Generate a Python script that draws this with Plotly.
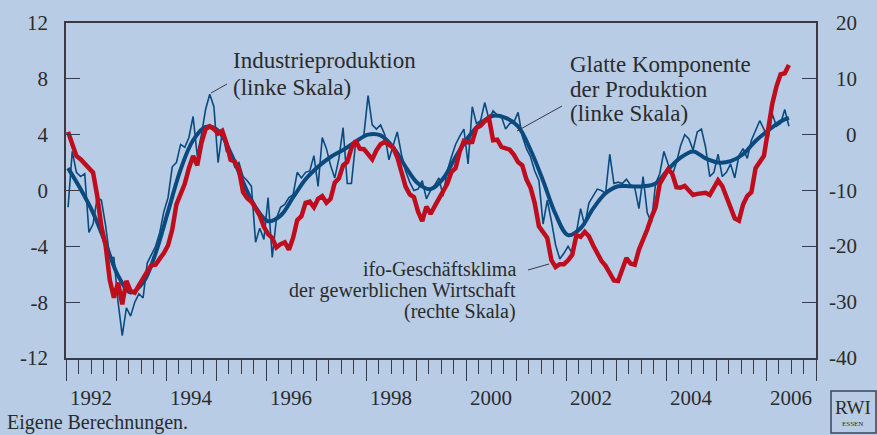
import plotly.graph_objects as go

# ---------------- data ----------------
start_year = 1992

# Industrieproduktion, monthly (left scale)
ip = [
    -1.2, 2.8, 1.3, 1.0, 1.2, -3.0, -2.4, -0.5, -0.7, -2.5,
    -4.8, -4.8, -8.0, -10.4, -8.4, -9.0, -8.0, -7.4, -7.7, -5.2,
    -4.6, -4.0, -3.0, -1.5, -0.5, 1.7, 2.0, 3.3, 3.1, 3.8,
    5.3, 2.5, 4.0, 5.8, 6.9, 6.0, 2.0, 4.2, 2.8, 2.6,
    1.7, 2.0, 1.0, 0.7, 0.3, -3.7, -2.7, -3.5, -0.5, -4.8,
    -2.0, -1.2, -1.0, -0.5, -0.3, 1.3, 0.9, 1.3, 1.4, 2.5,
    0.3, 3.8, 3.0, 1.8, 0.9, 2.3, 4.5, 0.5, 0.5, 3.4,
    3.6, 4.0, 6.8, 4.7, 4.4, 4.7, 4.0, 2.2, 3.2, 4.2,
    2.6, 1.4, 0.6, 0.0, 0.1, 0.7, -0.6, 0.0, 0.4, 0.9,
    -0.4, 1.4, 2.4, 3.3, 3.9, 4.4, 1.9, 6.0, 4.8, 5.0,
    6.3, 5.1, 5.7, 5.4, 5.3, 4.4, 4.8, 4.9, 5.6, 3.9,
    3.0, 2.4, 1.4, 0.7, -2.4, -0.7, -2.2, -3.9, -4.9, -4.5,
    -4.0, -4.5, -3.0, -1.3, -2.5, -0.9, -0.4, 0.1, 0.0, -0.2,
    2.6, 0.5, 0.6, 0.5, 0.8, 0.4, 0.2, -1.3, 1.0, -1.6,
    -2.3, 0.5, 1.2, 2.8, 1.9, 1.1, 2.0, 3.2, 4.0, 3.7,
    2.9, 4.2, 4.4, 3.1, 1.0, 1.3, 2.6, 1.0, 1.3, 1.9,
    0.9, 2.5, 3.0, 2.3, 3.6, 4.3, 5.0, 4.4, 3.7, 5.5,
    4.6, 4.8, 5.8, 4.6,
]

# ifo-Geschaeftsklima, monthly (right scale)
ifo = [
    0.5, -2.0, -3.8, -4.4, -5.2, -6.1, -6.8, -11.0, -16.5, -19.8,
    -26.0, -29.2, -26.5, -30.4, -26.2, -28.0, -28.3, -27.0, -25.6, -24.5,
    -23.4, -23.3, -22.2, -21.2, -19.8, -17.0, -12.5, -10.8, -8.8, -6.0,
    -3.8, -5.5, -1.5, 1.0, 1.5, 1.0, 0.2, 0.7, -1.5, -4.5,
    -4.8, -6.3, -10.3, -11.4, -12.0, -13.2, -14.5, -16.5, -17.8, -18.5,
    -20.2, -19.6, -19.3, -20.6, -18.5, -15.3, -14.6, -12.2, -12.0, -13.0,
    -11.5, -11.0, -12.2, -11.5, -8.6, -7.8, -5.5, -4.9, -2.4, -1.1,
    -2.5, -2.6, -3.5, -4.4, -2.8, -1.7, -1.3, -1.8, -2.3, -4.0,
    -6.8, -9.3, -10.7, -11.2, -13.8, -15.5, -12.9, -14.2, -12.8, -11.5,
    -10.0, -8.8, -6.7, -6.0, -3.0, -1.1, -1.4, -1.3, 1.2, 1.6,
    2.4, 3.0, -1.0, -0.9, -2.2, -2.5, -2.7, -3.6, -4.9, -5.5,
    -8.0, -9.5, -12.3, -16.4, -17.5, -18.5, -22.5, -23.7, -23.2, -23.2,
    -22.5, -21.5, -18.0, -18.3, -17.4, -18.2, -19.8, -21.4, -22.6, -23.5,
    -25.0, -26.1, -26.2, -24.0, -22.1, -23.1, -23.3, -20.6, -19.0, -17.0,
    -14.8, -13.0, -8.8, -7.4, -6.2, -7.0, -9.4, -9.5, -9.2, -10.0,
    -10.8, -10.6, -10.6, -10.4, -10.8, -9.5, -8.2, -9.2, -11.3, -13.5,
    -15.0, -15.4, -12.5, -11.0, -10.3, -6.0, -4.7, -3.8, 0.8, 5.5,
    8.6, 10.8, 11.0, 12.5,
]

# Glatte Komponente der Produktion, quarterly readings (left scale)
smooth = [
    1.6, 0.1, -1.6, -3.8, -6.1, -7.3, -6.6, -4.5, -1.5, 1.5,
    3.6, 4.55, 4.3, 2.7, 0.6, -1.2, -2.2, -1.8, -0.5, 0.8,
    1.7, 2.4, 2.9, 3.5, 4.0, 3.95, 3.1, 1.7, 0.5, 0.1,
    0.85, 2.4, 3.8, 4.8, 5.35, 5.2, 4.6, 2.9, 0.7, -1.7,
    -3.2, -2.7, -1.3, -0.2, 0.3, 0.3, 0.3, 0.5, 1.5, 2.35,
    2.8, 2.3, 2.0, 2.1, 2.6, 3.55, 4.3, 4.95, 5.2,
]
smooth_month_idx = list(range(0, 172, 3)) + [173]

left_ticks = [-12, -8, -4, 0, 4, 8, 12]
right_ticks = [-40, -30, -20, -10, 0, 10, 20]
year_labels = [1992, 1994, 1996, 1998, 2000, 2002, 2004, 2006]
year_bounds = list(range(1992, 2008))

# ---------------- derived positions ----------------
months = [start_year + (i + 0.5) / 12 for i in range(len(ip))]
months_ifo = [start_year + (i + 0.5) / 12 for i in range(len(ifo))]
smooth_x = [start_year + (i + 0.5) / 12 for i in smooth_month_idx]
quarters = [y + q / 4 for y in range(1992, 2007) for q in (1, 2, 3)]

# ---------------- styling ----------------
W, H = 877, 435
L, R, T, B = 66, 816, 23, 358
BG = "#b8cce6"
AX = "#3a3a44"
TXT = "#2b2b2b"
BLUE = "#0b4a7e"
RED = "#bf0d1d"
FONT = "Liberation Serif, Times New Roman, serif"


def px(x):
    return (x - L) / (R - L)


def py(y):
    return (B - y) / (B - T)


fig = go.Figure()
fig.add_trace(go.Scatter(x=months, y=ip, mode="lines",
                         line=dict(color=BLUE, width=1.6), hoverinfo="skip"))
fig.add_trace(go.Scatter(x=smooth_x, y=smooth, mode="lines",
                         line=dict(color=BLUE, width=4, shape="spline", smoothing=1.0),
                         hoverinfo="skip"))
fig.add_trace(go.Scatter(x=months_ifo, y=ifo, mode="lines", xaxis="x2", yaxis="y2",
                         line=dict(color=RED, width=4.5), hoverinfo="skip"))

fig.update_layout(
    width=W, height=H,
    margin=dict(l=L, r=W - R, t=T, b=H - B, pad=0),
    paper_bgcolor=BG, plot_bgcolor=BG,
    showlegend=False,
    font=dict(family=FONT, color=TXT, size=21),
    xaxis=dict(
        range=[1992, 2007], showgrid=False, zeroline=False,
        showline=True, linecolor=AX, linewidth=1.5, mirror=True,
        tickvals=[y + 0.5 for y in year_labels], ticktext=[str(y) for y in year_labels],
        ticks="outside", ticklen=20, tickcolor="rgba(0,0,0,0)",
        tickfont=dict(size=21, family=FONT, color=TXT),
        minor=dict(tickvals=quarters, ticks="outside", ticklen=14,
                   tickcolor=AX, tickwidth=1.2, showgrid=False),
    ),
    xaxis2=dict(
        range=[1992, 2007], overlaying="x", anchor="y", side="bottom",
        showgrid=False, zeroline=False, showline=False,
        tickvals=year_bounds, ticks="outside", ticklen=22, tickwidth=1.2,
        tickcolor=AX, showticklabels=False,
    ),
    yaxis=dict(
        range=[-12, 12], showgrid=False, zeroline=False,
        showline=True, linecolor=AX, linewidth=1.5,
        tickvals=left_ticks, ticktext=[str(v) for v in left_ticks],
        ticks="inside", ticklen=14, tickwidth=1.2, tickcolor=AX,
        ticklabelstandoff=12,
        tickfont=dict(size=21, family=FONT, color=TXT),
    ),
    yaxis2=dict(
        range=[-40, 20], overlaying="y", side="right", anchor="x",
        showgrid=False, zeroline=False,
        showline=True, linecolor=AX, linewidth=1.5,
        tickvals=right_ticks, ticks="inside", ticklen=14, tickwidth=1.2,
        tickcolor=AX, showticklabels=False,
    ),
)

ann = []
# right-axis tick labels (right-aligned like the reference)
for v in right_ticks:
    ann.append(dict(x=px(859), xref="paper", y=v, yref="y2", text=str(v),
                    showarrow=False, xanchor="right", yanchor="middle",
                    font=dict(size=21, family=FONT, color=TXT)))


def label(text, xp, yp, anchor, size):
    ann.append(dict(x=px(xp), y=py(yp), xref="paper", yref="paper", text=text,
                    showarrow=False, xanchor=anchor, yanchor="middle",
                    font=dict(size=size, family=FONT, color=TXT)))


label("Industrieproduktion", 231, 61, "left", 23)
label("(linke Skala)", 231, 87, "left", 23)
label("Glatte Komponente", 568, 65, "left", 23)
label("der Produktion", 568, 89, "left", 23)
label("(linke Skala)", 568, 113, "left", 23)
label("ifo-Geschäftsklima", 518, 269, "right", 20)
label("der gewerblichen Wirtschaft", 518, 290, "right", 20)
label("(rechte Skala)", 518, 311, "right", 20)
label("Eigene Berechnungen.", 5, 422, "left", 20)
label("RWI", 853, 407, "center", 19)
label("ESSEN", 853, 424, "center", 7)
fig.update_layout(annotations=ann)

shapes = []


def seg(x0, y0, x1, y1, color=AX, width=1):
    shapes.append(dict(type="line", xref="paper", yref="paper",
                       x0=px(x0), y0=py(y0), x1=px(x1), y1=py(y1),
                       line=dict(color=color, width=width)))


seg(211, 93, 227, 84)
seg(517, 131, 562, 106)
seg(528, 270, 549, 264)
shapes.append(dict(type="rect", xref="paper", yref="paper",
                   x0=px(831), y0=py(391), x1=px(876), y1=py(433),
                   line=dict(color="#3a4656", width=1.5), fillcolor=BG))
fig.update_layout(shapes=shapes)

fig.write_html(
    "out.html",
    config={"displayModeBar": False},
    post_script="document.body.style.margin='0';document.body.style.padding='0';"
                "document.body.style.overflow='hidden';"
                "document.body.style.background='" + BG + "';",
)
